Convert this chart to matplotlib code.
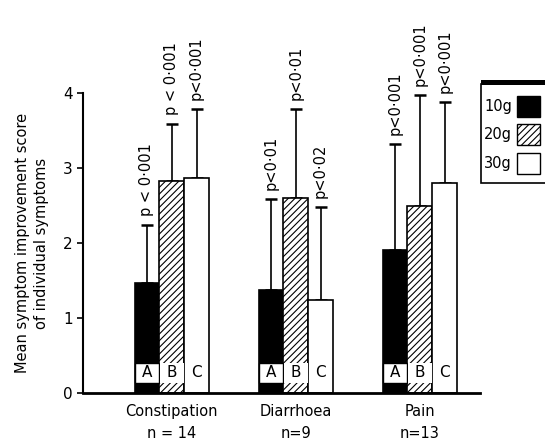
import numpy as np
import matplotlib
matplotlib.use("Agg")
import matplotlib.pyplot as plt
from matplotlib.patches import Rectangle

# datos
categorias = ["Constipation", "Diarrhoea", "Pain"]
n_pacientes = ["n = 14", "n=9", "n=13"]
dosis = ["10g", "20g", "30g"]
letras = ["A", "B", "C"]

media_10g = [1.47, 1.38, 1.91]
media_20g = [2.83, 2.60, 2.50]
media_30g = [2.87, 1.25, 2.81]

sd_10g = [0.78, 1.21, 1.41]
sd_20g = [0.76, 1.19, 1.48]
sd_30g = [0.92, 1.23, 1.08]

p_10g = ["p < 0·001", "p<0·01", "p<0·001"]
p_20g = ["p < 0·001", "p<0·01", "p<0·001"]
p_30g = ["p<0·001", "p<0·02", "p<0·001"]

medias = [media_10g, media_20g, media_30g]
sds = [sd_10g, sd_20g, sd_30g]
pvals = [p_10g, p_20g, p_30g]
estilos = [dict(color="black", hatch=None),
           dict(color="white", hatch="/////"),
           dict(color="white", hatch=None)]

plt.rcParams["hatch.linewidth"] = 0.8
plt.rcParams["font.family"] = ["DejaVu Sans"]

fig = plt.figure(figsize=(5.45, 4.44), dpi=100)
ax = fig.add_axes([0.1517, 0.1142, 0.7293, 0.6757])

x = np.arange(len(categorias))
w = 0.2

for j in range(3):
    pos = x + (j - 1) * w
    ax.bar(pos, medias[j], w, color=estilos[j]["color"], hatch=estilos[j]["hatch"],
           edgecolor="black", linewidth=1.2, zorder=2)
    ax.errorbar(pos, medias[j], yerr=[np.zeros(3), sds[j]], fmt="none",
                ecolor="black", elinewidth=1.2, capsize=4, capthick=1.8, zorder=1)
    for i in range(3):
        # caja blanca con la letra
        ax.add_patch(Rectangle((pos[i] - w / 2 + 0.005, 0.14), w - 0.01, 0.27,
                               facecolor="white", edgecolor="black" if j == 0 else "none",
                               linewidth=1.0, zorder=3))
        ax.text(pos[i], 0.275, letras[j], ha="center", va="center", fontsize=11, zorder=4)
        # valor p encima
        ax.text(pos[i], medias[j][i] + sds[j][i] + 0.12, pvals[j][i], rotation=90,
                ha="center", va="bottom", fontsize=10.5, clip_on=False)

ax.set_xlim(-0.718, 2.486)
ax.set_ylim(0, 4)
ax.set_yticks([0, 1, 2, 3, 4])
ax.tick_params(axis="y", length=4, width=1.2, labelsize=11, pad=3)
ax.set_xticks(x)
ax.set_xticklabels([c + "\n" + n for c, n in zip(categorias, n_pacientes)],
                   fontsize=10.5, linespacing=1.55)
ax.tick_params(axis="x", length=0, pad=8)
ax.spines["top"].set_visible(False)
ax.spines["right"].set_visible(False)
ax.spines["left"].set_linewidth(1.5)
ax.spines["bottom"].set_linewidth(2.0)
ax.set_ylabel("Mean symptom improvement score\nof individual symptoms", fontsize=10.5,
              linespacing=1.4, labelpad=10)

# leyenda dibujada a mano
W, H = 545.0, 444.0
def fx(px):
    return px / W
def fy(py):
    return 1 - py / H

fig.patches.append(Rectangle((fx(481), fy(183)), fx(80), 99 / H, transform=fig.transFigure,
                             facecolor="white", edgecolor="black", linewidth=1.2))
fig.patches.append(Rectangle((fx(481), fy(85)), fx(80), 5 / H, transform=fig.transFigure,
                             facecolor="black", edgecolor="black", linewidth=0))
cajas_y = [96, 124, 153]
for k in range(3):
    y0 = cajas_y[k]
    fig.patches.append(Rectangle((fx(517), fy(y0 + 21)), fx(23), 21 / H, transform=fig.transFigure,
                                 facecolor=estilos[k]["color"], hatch=estilos[k]["hatch"],
                                 edgecolor="black", linewidth=1.0))
    fig.text(fx(484), fy(y0 + 10.5), dosis[k], ha="left", va="center", fontsize=10.5)

fig.savefig("out.png", dpi=100)
